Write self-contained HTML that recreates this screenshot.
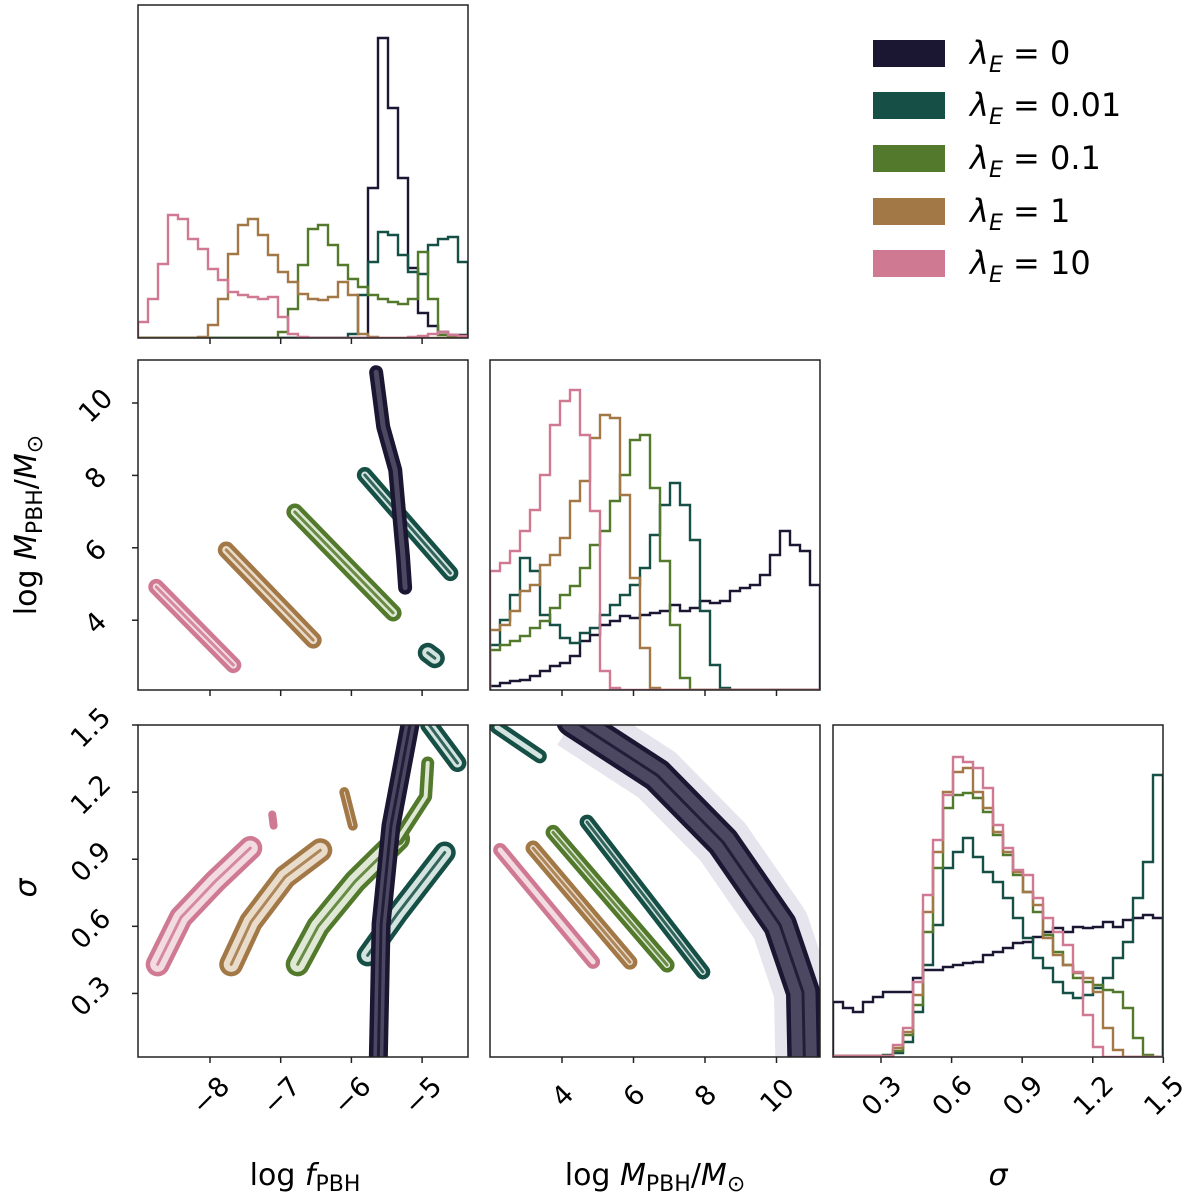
<!DOCTYPE html>
<html><head><meta charset="utf-8"><style>
body{margin:0;background:#fff}
svg{display:block;font-family:"DejaVu Sans","Liberation Sans",sans-serif}
</style></head><body>
<svg id="c" width="1200" height="1200" viewBox="0 0 1200 1200" xmlns="http://www.w3.org/2000/svg"></svg>
<script>
const seriesNames = ["λE=0","λE=0.01","λE=0.1","λE=1","λE=10"];
const colors = ["#1b1632","#164f45","#537a2c","#a27847","#cf7a92"];
const tints = ["#4d4862","#d3e3df","#dfe8d5","#eadccb","#f3dbe2"];
const legendLabels = ["0","0.01","0.1","1","10"];

// histogram counts (33 bins each), order: 0, 0.01, 0.1, 1, 10
const histF_dark  = [0,0,0,0,0,0,0,0,0,0,0,0,0,0,0,0,0,0,0,0,0,0,0,150,300,230,160,70,25,12,6,3,3];
const histF_teal  = [0,0,0,0,0,0,0,0,0,0,0,0,0,0,0,0,0,0,0,0,0,4,43,76,106,103,83,66,64,93,99,101,76];
const histF_green = [0,0,0,0,0,0,0,0,0,0,0,0,0,0,6,29,73,109,113,93,73,59,51,43,39,36,34,39,86,39,3,2,2];
const histF_brown = [0,0,0,0,0,0,1,13,39,84,113,119,103,83,66,56,44,39,38,41,56,43,4,1,0,0,0,0,0,0,0,0,0];
const histF_pink  = [16,39,74,123,119,99,89,69,58,46,43,41,39,41,21,4,1,0,0,0,0,0,0,0,0,0,0,1,2,4,6,3,2];

const histM_dark  = [4,7,9,10,14,19,24,27,34,49,55,65,69,74,72,75,77,79,85,79,82,89,87,89,99,102,105,115,135,159,145,139,105];
const histM_teal  = [45,70,95,132,119,75,65,52,47,57,62,75,85,95,105,122,155,185,207,185,150,79,25,2,0,0,0,0,0,0,0,0,0];
const histM_green = [40,45,49,54,62,69,82,95,104,122,145,159,189,215,250,255,202,129,65,12,0,0,0,0,0,0,0,0,0,0,0,0,0];
const histM_brown = [60,65,79,99,105,125,135,152,189,209,252,275,272,195,112,42,2,0,0,0,0,0,0,0,0,0,0,0,0,0,0,0,0];
const histM_pink  = [119,127,139,159,180,215,265,289,300,255,179,19,2,0,0,0,0,0,0,0,0,0,0,0,0,0,0,0,0,0,0,0,0];

const histS_dark  = [55,49,45,55,60,65,65,65,79,87,87,90,92,94,95,102,105,109,114,115,120,125,129,125,130,129,130,135,130,137,139,142,139];
const histS_teal  = [1,1,1,1,1,2,4,15,45,92,132,189,205,219,200,185,175,159,139,119,99,89,75,64,59,62,69,79,99,115,159,195,282];
const histS_green = [1,1,1,1,1,1,6,22,52,125,189,249,262,264,259,245,222,202,182,165,145,122,105,92,79,75,72,67,65,49,19,2,0];
const histS_brown = [1,1,1,1,1,1,9,25,62,145,205,265,285,289,265,249,225,205,185,165,152,119,102,92,84,79,65,29,7,0,0,0,0];
const histS_pink  = [1,1,1,1,1,1,12,29,75,162,217,262,300,295,289,269,232,209,187,182,159,139,125,112,85,42,10,0,0,0,0,0,0];

// contour spines in data coordinates [x, y]
const cFM_dark  = [[-5.65,10.85],[-5.55,9.34],[-5.38,8.15],[-5.27,5.75],[-5.24,4.9]];
const cFM_teal  = [[-5.81,8.01],[-4.6,5.3]];
const cFM_teal2 = [[-4.92,3.1],[-4.82,2.95]];
const cFM_green = [[-6.8,6.99],[-5.41,4.2]];
const cFM_brown = [[-7.77,5.94],[-6.54,3.45]];
const cFM_pink  = [[-8.76,4.92],[-7.67,2.76]];

const cFS_dark  = [[-5.16,1.52],[-5.44,1.05],[-5.58,0.61],[-5.62,0.0]];
const cFS_teal  = [[-5.77,0.47],[-5.34,0.66],[-4.68,0.93]];
const cFS_teal2 = [[-4.9,1.5],[-4.5,1.33]];
const cFS_green = [[-6.76,0.43],[-6.47,0.6],[-5.95,0.8],[-5.34,0.99]];
const cFS_green2= [[-5.34,0.99],[-4.95,1.18],[-4.92,1.33]];
const cFS_brown = [[-7.7,0.43],[-7.42,0.62],[-6.94,0.82],[-6.44,0.94]];
const cFS_brown2= [[-6.1,1.2],[-5.98,1.05]];
const cFS_pink  = [[-8.74,0.43],[-8.41,0.64],[-7.93,0.8],[-7.43,0.95]];
const cFS_pink2 = [[-7.12,1.1],[-7.1,1.05]];

const cMS_dark  = [[4.31,1.52],[6.66,1.276],[8.5,0.977],[10.1,0.606],[10.74,0.306],[10.78,0.0]];
const cMS_teal  = [[4.7,1.066],[7.94,0.396]];
const cMS_teal2 = [[2.18,1.49],[3.38,1.36]];
const cMS_green = [[3.75,1.02],[6.94,0.427]];
const cMS_brown = [[3.19,0.95],[5.9,0.44]];
const cMS_pink  = [[2.27,0.941],[4.87,0.441]];

const ticksF = [-8,-7,-6,-5];
const ticksM = [4,6,8,10];
const ticksS = [0.3,0.6,0.9,1.2,1.5];
const tickLabF = ["−8","−7","−6","−5"];
const tickLabM = ["4","6","8","10"];
const tickLabS = ["0.3","0.6","0.9","1.2","1.5"];

const NS="http://www.w3.org/2000/svg";
const svg=document.getElementById('c');
function mk(tag,attrs,parent){const e=document.createElementNS(NS,tag);for(const k in attrs)e.setAttribute(k,attrs[k]);(parent||svg).appendChild(e);return e;}

const fX = v => 210 + (v + 8) * 70.7;
const mX = v => 562 + (v - 4) * 35.75;
const sX = v => 881 + (v - 0.3) * 235.3;
const mY = v => 403 + (10 - v) * 36.2;
const sY = v => 725 + (1.5 - v) * 223.7;

const P = {
  fHist:{x0:138,x1:468,y0:5,y1:338},
  fm:{x0:138,x1:468,y0:360,y1:690},
  mHist:{x0:490,x1:820,y0:360,y1:690},
  fs:{x0:138,x1:468,y0:725,y1:1057},
  ms:{x0:490,x1:820,y0:725,y1:1057},
  sHist:{x0:833,x1:1163,y0:725,y1:1057}
};

function clip(id,p){const cp=mk('clipPath',{id:id});mk('rect',{x:p.x0,y:p.y0,width:p.x1-p.x0,height:p.y1-p.y0},cp);}
for(const k in P) clip('cl-'+k,P[k]);

function hist(p,vals,color,name){
  const n=vals.length,w=(p.x1-p.x0)/n;let d=`M${p.x0},${p.y1}`;
  vals.forEach((v,i)=>{const y=p.y1-v;d+=`L${p.x0+i*w},${y}L${p.x0+(i+1)*w},${y}`;});
  d+=`L${p.x1},${p.y1}`;
  const e=mk('path',{d:d,fill:'none',stroke:color,'stroke-width':2.4,'clip-path':`url(#cl-${name.split('|')[1]})`});
  
  
}
function contour(pts,sx,sy,w,ci,name,pk){
  const g=mk('g',{'clip-path':`url(#cl-${pk})`});
  
  
  const d=pts.map((p,i)=>(i?'L':'M')+sx(p[0])+','+sy(p[1])).join('');
  mk('path',{d:d,fill:'none',stroke:colors[ci],'stroke-width':w,'stroke-linecap':'round','stroke-linejoin':'round'},g);
  if(w>9) mk('path',{d:d,fill:'none',stroke:tints[ci],'stroke-width':w-9,'stroke-linecap':'round','stroke-linejoin':'round'},g);
  if(w>14) mk('path',{d:d,fill:'none',stroke:colors[ci],'stroke-width':3,'stroke-linecap':'round','stroke-linejoin':'round','opacity':0.85},g);
}

{const d=cMS_dark.map((p,i)=>(i?'L':'M')+mX(p[0])+','+sY(p[1])).join('');
 const h=mk('path',{d:d,fill:'none',stroke:'#e6e4ec','stroke-width':58,'stroke-linejoin':'round','clip-path':'url(#cl-ms)'});
 
 }

contour(cFM_pink,fX,mY,16,4,'contour-fm-10','fm');
contour(cFM_brown,fX,mY,17,3,'contour-fm-1','fm');
contour(cFM_green,fX,mY,17,2,'contour-fm-0.1','fm');
contour(cFM_teal,fX,mY,16,1,'contour-fm-0.01','fm');
contour(cFM_teal2,fX,mY,20,1,'contour-fm-0.01-island','fm');
contour(cFM_dark,fX,mY,14,0,'contour-fm-0','fm');

contour(cFS_pink,fX,sY,24,4,'contour-fs-10','fs');
contour(cFS_pink2,fX,sY,8,4,'contour-fs-10-island','fs');
contour(cFS_brown,fX,sY,24,3,'contour-fs-1','fs');
contour(cFS_brown2,fX,sY,10,3,'contour-fs-1-island','fs');
contour(cFS_green,fX,sY,24,2,'contour-fs-0.1','fs');
contour(cFS_green2,fX,sY,13,2,'contour-fs-0.1-arm','fs');
contour(cFS_teal,fX,sY,22,1,'contour-fs-0.01','fs');
contour(cFS_teal2,fX,sY,18,1,'contour-fs-0.01-top','fs');
contour(cFS_dark,fX,sY,19,0,'contour-fs-0','fs');

contour(cMS_pink,mX,sY,14,4,'contour-ms-10','ms');
contour(cMS_brown,mX,sY,15,3,'contour-ms-1','ms');
contour(cMS_green,mX,sY,15,2,'contour-ms-0.1','ms');
contour(cMS_teal,mX,sY,15,1,'contour-ms-0.01','ms');
contour(cMS_teal2,mX,sY,14,1,'contour-ms-0.01-top','ms');
contour(cMS_dark,mX,sY,34,0,'contour-ms-0','ms');

const order=[["dark",0],["teal",1],["green",2],["brown",3],["pink",4]];
const HF={dark:histF_dark,teal:histF_teal,green:histF_green,brown:histF_brown,pink:histF_pink};
const HM={dark:histM_dark,teal:histM_teal,green:histM_green,brown:histM_brown,pink:histM_pink};
const HS={dark:histS_dark,teal:histS_teal,green:histS_green,brown:histS_brown,pink:histS_pink};
order.forEach(([k,i])=>{
  hist(P.fHist,HF[k],colors[i],'hist-logf-'+k+'|fHist');
  hist(P.mHist,HM[k],colors[i],'hist-logm-'+k+'|mHist');
  hist(P.sHist,HS[k],colors[i],'hist-sigma-'+k+'|sHist');
});

for(const k in P){const p=P[k];const r=mk('rect',{x:p.x0,y:p.y0,width:p.x1-p.x0,height:p.y1-p.y0,fill:'none',stroke:'#222','stroke-width':1.5});
 
 }

function xticks(p,ticks,sc,labels){ticks.forEach((t,i)=>{const x=sc(t);mk('line',{x1:x,x2:x,y1:p.y1,y2:p.y1+6,stroke:'#222','stroke-width':1.5});
 if(labels){const tx=mk('text',{x:x,y:p.y1+48,'font-size':27,'text-anchor':'middle',transform:`rotate(-45 ${x} ${p.y1+38})`});tx.textContent=labels[i];
 
 }});}
function yticks(p,ticks,sc,labels){ticks.forEach((t,i)=>{const y=sc(t);mk('line',{x1:p.x0-6,x2:p.x0,y1:y,y2:y,stroke:'#222','stroke-width':1.5});
 const cx=labels[i].length>2?90:95;const tx=mk('text',{x:cx,y:y+12,'font-size':27,'text-anchor':'middle',transform:`rotate(-45 ${cx} ${y+2})`});tx.textContent=labels[i];
 
 });}
xticks(P.fHist,ticksF,fX,null);
xticks(P.fm,ticksF,fX,null);
xticks(P.fs,ticksF,fX,tickLabF);
xticks(P.mHist,ticksM,mX,null);
xticks(P.ms,ticksM,mX,tickLabM);
xticks(P.sHist,ticksS,sX,tickLabS);
yticks(P.fm,ticksM,mY,tickLabM);
yticks(P.fs,ticksS,sY,tickLabS);
</script>
<svg style="position:absolute;left:0;top:0" width="1200" height="1200">
 <g font-family="'DejaVu Sans','Liberation Sans',sans-serif" font-size="30" fill="#000">
  <text x="305" y="1185" text-anchor="middle">log <tspan font-style="italic">f</tspan><tspan font-size="22" dy="6">PBH</tspan></text>
  <text x="655" y="1185" text-anchor="middle">log <tspan font-style="italic">M</tspan><tspan font-size="22" dy="6">PBH</tspan><tspan dy="-6">/</tspan><tspan font-style="italic">M</tspan><tspan font-size="22" dy="6">⊙</tspan></text>
  <text x="998" y="1185" text-anchor="middle" font-style="italic">σ</text>
  <text x="0" y="0" text-anchor="middle" transform="translate(36 525) rotate(-90)">log <tspan font-style="italic">M</tspan><tspan font-size="22" dy="6">PBH</tspan><tspan dy="-6">/</tspan><tspan font-style="italic">M</tspan><tspan font-size="22" dy="6">⊙</tspan></text>
  <text x="0" y="0" text-anchor="middle" font-style="italic" transform="translate(36 888) rotate(-90)">σ</text>
 </g>
 <g font-family="'DejaVu Sans','Liberation Sans',sans-serif" font-size="32">
  <rect x="873" y="40" width="72" height="27" fill="#1b1632"/>
  <text x="970" y="64"><tspan font-style="italic">λ</tspan><tspan font-style="italic" font-size="22" dy="8">E</tspan><tspan dy="-8"> = 0</tspan></text>
  <rect x="873" y="92" width="72" height="27" fill="#164f45"/>
  <text x="970" y="116"><tspan font-style="italic">λ</tspan><tspan font-style="italic" font-size="22" dy="8">E</tspan><tspan dy="-8"> = 0.01</tspan></text>
  <rect x="873" y="145" width="72" height="27" fill="#537a2c"/>
  <text x="970" y="169"><tspan font-style="italic">λ</tspan><tspan font-style="italic" font-size="22" dy="8">E</tspan><tspan dy="-8"> = 0.1</tspan></text>
  <rect x="873" y="198" width="72" height="27" fill="#a27847"/>
  <text x="970" y="222"><tspan font-style="italic">λ</tspan><tspan font-style="italic" font-size="22" dy="8">E</tspan><tspan dy="-8"> = 1</tspan></text>
  <rect x="873" y="250" width="72" height="27" fill="#cf7a92"/>
  <text x="970" y="274"><tspan font-style="italic">λ</tspan><tspan font-style="italic" font-size="22" dy="8">E</tspan><tspan dy="-8"> = 10</tspan></text>
 </g>
</svg>
</body></html>
